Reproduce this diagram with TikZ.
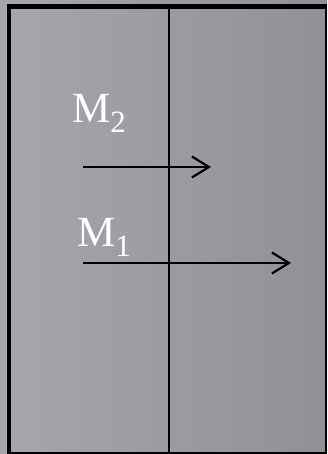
\documentclass[tikz,border=0pt]{standalone}
\usepackage{fontspec}
\setmainfont{Liberation Serif}
\usetikzlibrary{arrows.meta}
\definecolor{bgl}{HTML}{A8A5AC}
\definecolor{bgr}{HTML}{928F97}
\newcommand{\subsc}[1]{\raisebox{-10pt}{\fontsize{31}{31}\selectfont #1}}
\begin{document}
\begin{tikzpicture}[x=1pt,y=-1pt,
  lbl/.style={text=white,inner sep=0pt,anchor=base west,font=\fontsize{43}{43}\selectfont},
  vec/.style={line width=2.2pt,-{Straight Barb[length=17pt,width=21pt,line width=2.2pt]}},
  frame/.style={line width=#1,black}]
\useasboundingbox (0,0) rectangle (327,454);
\shade[left color=bgl,right color=bgr] (0,0) rectangle (327,454);
% frame
\draw[frame=2pt] (9,453) -- (327,453);
\draw[frame=2pt] (326,6) -- (326,454);
\draw[frame=5pt] (6.5,6.8) -- (327,6.8);
\draw[frame=4.5pt] (9,4.3) -- (9,454);
\draw[frame=2pt] (169,7) -- (169,453);
% labels
\node[lbl] (m2) at (72,123) {M\subsc{2}};
\node[lbl] (m1) at (77,246) {M\subsc{1}};
% arrows
\coordinate (a2s) at (83,167);
\coordinate (a2e) at (211,167);
\coordinate (a1s) at (83,263);
\coordinate (a1e) at (291,263);
\draw[vec] (a2s) -- (a2e);
\draw[vec] (a1s) -- (a1e);
\end{tikzpicture}
\end{document}
